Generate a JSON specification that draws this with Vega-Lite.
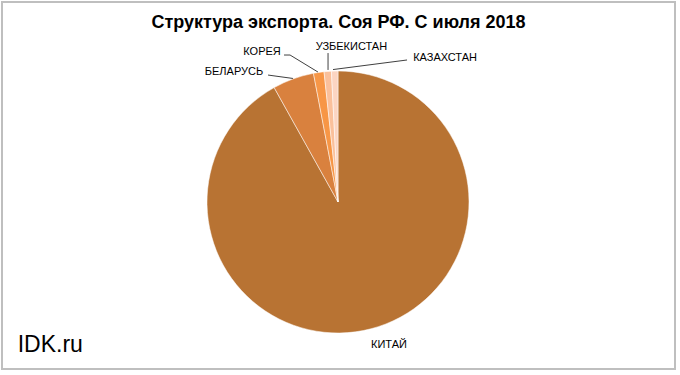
{
  "$schema": "https://vega.github.io/schema/vega-lite/v6.json",
  "autosize": "none",
  "width": 673,
  "height": 367,
  "padding": {"left": 2, "top": 2, "right": 5, "bottom": 6},
  "background": "white",
  "config": {
    "view": {"stroke": "#BFBFBF", "strokeWidth": 2},
    "font": "Liberation Sans"
  },
  "title": {
    "text": "Структура экспорта. Соя РФ. С июля 2018",
    "font": "Liberation Sans",
    "fontSize": 18,
    "fontWeight": "bold",
    "color": "#000000",
    "anchor": "middle",
    "baseline": "alphabetic",
    "offset": -44
  },
  "datasets": {
    "shares": [
      {"country": "КИТАЙ", "share": 91.9, "ord": 1},
      {"country": "БЕЛАРУСЬ", "share": 5.1, "ord": 2},
      {"country": "КОРЕЯ", "share": 1.3, "ord": 3},
      {"country": "УЗБЕКИСТАН", "share": 0.9, "ord": 4},
      {"country": "КАЗАХСТАН", "share": 0.8, "ord": 5}
    ],
    "labels": [
      {"country": "КИТАЙ", "lx": 0.389, "ly": -1.092},
      {"country": "БЕЛАРУСЬ", "lx": -0.794, "ly": 0.989},
      {"country": "КОРЕЯ", "lx": -0.58, "ly": 1.143},
      {"country": "УЗБЕКИСТАН", "lx": 0.102, "ly": 1.186},
      {"country": "КАЗАХСТАН", "lx": 0.817, "ly": 1.097}
    ],
    "leaders": [
      {"country": "БЕЛАРУСЬ", "k": 1, "px": -0.534, "py": 0.969},
      {"country": "БЕЛАРУСЬ", "k": 2, "px": -0.344, "py": 0.943},
      {"country": "КОРЕЯ", "k": 1, "px": -0.412, "py": 1.122},
      {"country": "КОРЕЯ", "k": 2, "px": -0.366, "py": 1.122},
      {"country": "КОРЕЯ", "k": 3, "px": -0.153, "py": 0.992},
      {"country": "УЗБЕКИСТАН", "k": 1, "px": -0.076, "py": 1.137},
      {"country": "УЗБЕКИСТАН", "k": 2, "px": -0.076, "py": 1.008},
      {"country": "КАЗАХСТАН", "k": 1, "px": 0.527, "py": 1.084},
      {"country": "КАЗАХСТАН", "k": 2, "px": -0.038, "py": 1.011}
    ],
    "brand": [{"site": "IDK.ru", "bx": -2.445, "by": -1.147}]
  },
  "resolve": {"scale": {"x": "shared", "y": "shared"}},
  "layer": [
    {
      "data": {"name": "shares"},
      "mark": {"type": "arc", "outerRadius": 131, "stroke": "#ffffff", "strokeWidth": 0.5},
      "encoding": {
        "theta": {"field": "share", "type": "quantitative", "stack": true},
        "order": {"field": "ord", "type": "quantitative"},
        "x": {"datum": 0, "type": "quantitative", "scale": {"domain": [-2.5649, 2.5725], "nice": false, "zero": false}, "axis": null},
        "y": {"datum": 0, "type": "quantitative", "scale": {"domain": [-1.2748, 1.5267], "nice": false, "zero": false}, "axis": null},
        "color": {
          "field": "country",
          "type": "nominal",
          "scale": {
            "domain": ["КИТАЙ", "БЕЛАРУСЬ", "КОРЕЯ", "УЗБЕКИСТАН", "КАЗАХСТАН"],
            "range": ["#B87333", "#D9813E", "#F79646", "#FAC09B", "#FCD5C2"]
          },
          "legend": null
        }
      }
    },
    {
      "data": {"name": "leaders"},
      "mark": {"type": "line", "color": "#404040", "strokeWidth": 1},
      "encoding": {
        "x": {"field": "px", "type": "quantitative", "axis": null},
        "y": {"field": "py", "type": "quantitative", "axis": null},
        "detail": {"field": "country"},
        "order": {"field": "k", "type": "quantitative"}
      }
    },
    {
      "data": {"name": "labels"},
      "mark": {"type": "text", "fontSize": 11, "font": "Liberation Sans", "color": "#000000", "align": "center", "baseline": "middle"},
      "encoding": {
        "x": {"field": "lx", "type": "quantitative", "axis": null},
        "y": {"field": "ly", "type": "quantitative", "axis": null},
        "text": {"field": "country"}
      }
    },
    {
      "data": {"name": "brand"},
      "mark": {"type": "text", "fontSize": 23, "font": "Liberation Sans", "color": "#000000", "align": "left", "baseline": "alphabetic"},
      "encoding": {
        "x": {"field": "bx", "type": "quantitative", "axis": null},
        "y": {"field": "by", "type": "quantitative", "axis": null},
        "text": {"field": "site"}
      }
    }
  ]
}
